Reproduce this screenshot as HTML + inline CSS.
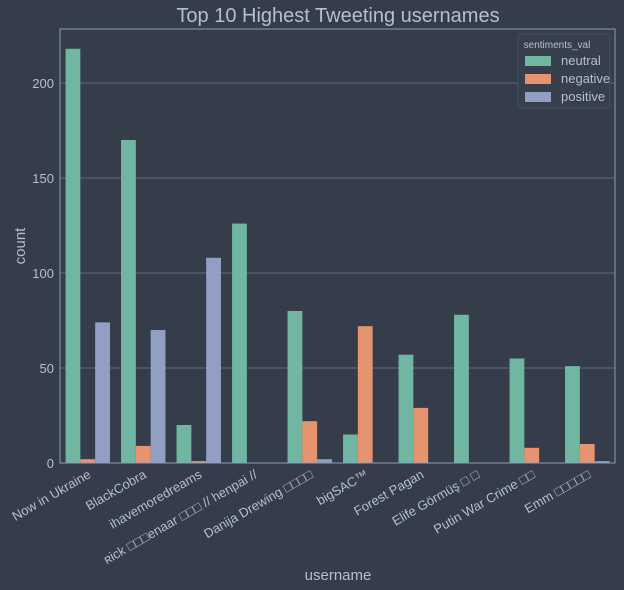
<!DOCTYPE html>
<html><head><meta charset="utf-8"><style>
html,body{margin:0;background:#353c4a;overflow:hidden;}
svg{display:block;}
svg text{font-family:"Liberation Sans","DejaVu Sans",sans-serif;fill:#b4bfd2;}
</style></head><body>
<svg id="chart" width="624" height="590" xmlns="http://www.w3.org/2000/svg">
<rect width="624" height="590" fill="#353c4a"/>
<text x="338" y="22" font-size="20" text-anchor="middle">Top 10 Highest Tweeting usernames</text>
<g id="grid"></g><g id="bars"></g><g id="xt"></g><g id="yt"></g>
<rect x="60" y="29" width="555" height="434" fill="none" stroke="#8a9bb8" stroke-width="1"/>
<text x="338" y="580" font-size="15" text-anchor="middle">username</text>
<text transform="translate(25,246) rotate(-90)" font-size="15" text-anchor="middle">count</text>
<g>
<rect x="518" y="34" width="92" height="74" rx="3" fill="#373f4d" stroke="#465063"/>
<text x="557" y="48" font-size="10" text-anchor="middle">sentiments_val</text>
<rect x="525" y="56" width="26" height="10" fill="#70b6a0"/>
<text x="561" y="65" font-size="13">neutral</text>
<rect x="525" y="74" width="26" height="10" fill="#e6946f"/>
<text x="561" y="83" font-size="13">negative</text>
<rect x="525" y="92" width="26" height="10" fill="#919fc3"/>
<text x="561" y="101" font-size="13">positive</text>
</g>
</svg>
<script>
const categories=["Now in Ukraine","BlackCobra","ihavemoredreams","ʀick □□□enaar □□□ // henpai //","Danija Drewing □□□□","bigSAC™","Forest Pagan","Elife Görmüş □ □","Putin War Crime □□","Emm □□□□□"];
const neutral=[218,170,20,126,80,15,57,78,55,51];
const negative=[2,9,1,0,22,72,29,0,8,10];
const positive=[74,70,108,0,2,0,0,0,0,1];
const yTicks=[0,50,100,150,200];
const NS="http://www.w3.org/2000/svg";
const L=60,R=615,T=29,B=463,yMax=228.4;
const y=v=>B-(v/yMax)*(B-T);
const gw=(R-L)/categories.length;
const x=i=>L+gw*i+gw/2;
function mk(t,a,p){const e=document.createElementNS(NS,t);for(const k in a)e.setAttribute(k,a[k]);p.appendChild(e);return e;}
const grid=document.getElementById('grid'),yt=document.getElementById('yt');
yTicks.forEach(v=>{
 const l=mk('line',{x1:L,x2:R,y1:y(v),y2:y(v),stroke:'#5c6a80','stroke-width':1},grid);
 
 
 const t=mk('text',{x:L-6,y:y(v)+5,'font-size':13,'text-anchor':'end'},yt);
 t.textContent=v;
 
 
});
const series=[["neutral",neutral,"#70b6a0"],["negative",negative,"#e6946f"],["positive",positive,"#919fc3"]];
const bw=gw*0.8/3;
const bars=document.getElementById('bars'),xt=document.getElementById('xt');
categories.forEach((c,i)=>{
 series.forEach((s,j)=>{
  const v=s[1][i];
  const r=mk('rect',{x:x(i)-gw*0.4+j*bw,y:y(v),width:bw,height:B-y(v),fill:s[2]},bars);
  
  
 });
 const t=mk('text',{transform:`translate(${x(i)+4},${B+14}) rotate(-30)`,'font-size':13,'text-anchor':'end'},xt);
 t.textContent=c;
 
 
});
</script>
</body></html>
